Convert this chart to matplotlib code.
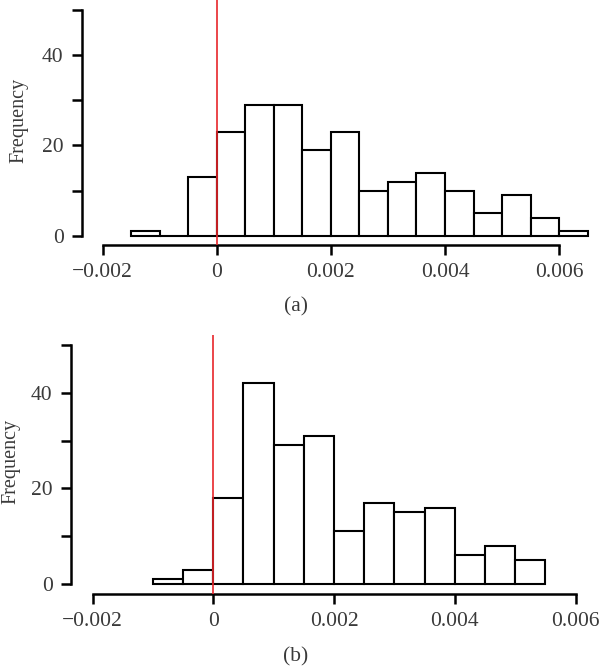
import matplotlib
matplotlib.use("Agg")
import matplotlib.pyplot as plt

plt.rcParams['font.family'] = ['Liberation Serif', 'DejaVu Serif']

# Histogram data (bin left edges, counts, bin width 0.0005)
edges_a = [-0.0015, -0.001, -0.0005, 0.0, 0.0005, 0.001, 0.0015, 0.002,
           0.0025, 0.003, 0.0035, 0.004, 0.0045, 0.005, 0.0055, 0.006]
counts_a = [1, 0, 13, 23, 29, 29, 19, 23, 10, 12, 14, 10, 5, 9, 4, 1]

edges_b = [-0.001, -0.0005, 0.0, 0.0005, 0.001, 0.0015, 0.002,
           0.0025, 0.003, 0.0035, 0.004, 0.0045, 0.005]
counts_b = [1, 3, 18, 42, 29, 31, 11, 17, 15, 16, 6, 8, 5]

bin_width = 0.0005
x_ticks = [-0.002, 0, 0.002, 0.004, 0.006]
x_labels = ["\u22120.002", "0", "0.002", "0.004", "0.006"]
y_ticks = [0, 10, 20, 30, 40, 50]
y_labels = ["0", "", "20", "", "40", ""]

text_col = "#3a3a3a"
fs = 15.5

fig = plt.figure(figsize=(6, 6.66), dpi=100)


def draw_panel(ax, edges, counts, xlim, ylim, ylab_x, caption, cap_y):
    ax.bar(edges, counts, width=bin_width, align='edge', facecolor='white',
           edgecolor='black', linewidth=1.5, zorder=2)
    ax.axvline(0, color='#e8262b', linewidth=1.2, zorder=3)
    ax.set_xlim(*xlim)
    ax.set_ylim(*ylim)
    for s in ['top', 'right']:
        ax.spines[s].set_visible(False)
    ax.spines['left'].set_bounds(0, 50)
    ax.spines['bottom'].set_bounds(-0.002, 0.006)
    ax.spines['left'].set_linewidth(1.8)
    ax.spines['bottom'].set_linewidth(1.8)
    ax.set_xticks(x_ticks)
    ax.set_xticklabels(x_labels)
    ax.set_yticks(y_ticks)
    ax.set_yticklabels(y_labels)
    ax.tick_params(axis='both', length=7, width=1.8, pad=6,
                   labelsize=fs, labelcolor=text_col)
    ax.set_ylabel("Frequency", fontsize=14.5, color=text_col)
    ax.yaxis.set_label_coords(ylab_x, 0.51)
    ax.patch.set_alpha(0)
    fig.text(0.493, cap_y, caption, ha='center', va='center',
             fontsize=fs, color=text_col)


ax_a = fig.add_axes([0.1362, 0.6321, 0.8638, 0.3679])
draw_panel(ax_a, edges_a, counts_a, (-0.002365, 0.006715), (-1.99, 52.1),
           -0.1036, "(a)", 1 - 307 / 666)

ax_b = fig.add_axes([0.1178, 0.1081, 0.8822, 0.3889])
draw_panel(ax_b, edges_b, counts_b, (-0.002362, 0.006405), (-2.09, 52.09),
           -0.094, "(b)", 1 - 657 / 666)

fig.savefig("out.png", dpi=100)
